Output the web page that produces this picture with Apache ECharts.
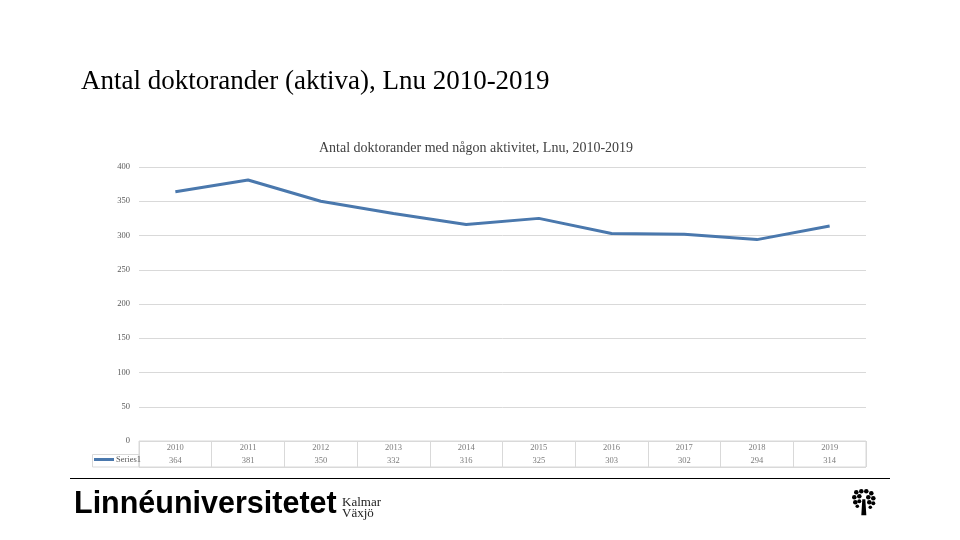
<!DOCTYPE html>
<html><head><meta charset="utf-8">
<script src="https://cdn.jsdelivr.net/npm/echarts@6/dist/echarts.min.js"></script>
<style>html,body{margin:0;padding:0;background:#fff}#c{width:960px;height:540px}</style>
</head><body><div id="c"></div>
<script>
const years = ['2010','2011','2012','2013','2014','2015','2016','2017','2018','2019'];
const values = [364, 381, 350, 332, 316, 325, 303, 302, 294, 314];
const yTicks = [0, 50, 100, 150, 200, 250, 300, 350, 400];
const seriesName = 'Series1';

const serif = '"Liberation Serif", "DejaVu Serif", serif';
const lineColor = '#4a78ad';
const gridColor = '#d9d9d9';
const txt = '#595959';

const chart = echarts.init(document.getElementById('c'));
chart.setOption({
  animation: false,
  backgroundColor: '#fff',
  title: [
    {text: 'Antal doktorander (aktiva), Lnu 2010-2019', left: 81, top: 68, padding: 0,
     textStyle: {fontFamily: serif, fontWeight: 'normal', fontSize: 27, color: '#000'}},
    {text: 'Antal doktorander med någon aktivitet, Lnu, 2010-2019', left: 476, top: 141, textAlign: 'center', padding: 0,
     textStyle: {fontFamily: serif, fontWeight: 'normal', fontSize: 14, color: '#404040'}}
  ],
  legend: {
    data: [seriesName], left: 94, top: 455, itemWidth: 20, itemHeight: 3, itemGap: 2,
    icon: 'rect', padding: 0,
    textStyle: {fontFamily: serif, fontSize: 8.5, color: txt, padding: [0,0,0,-3]}
  },
  grid: [
    {left: 139, right: 94, top: 167, bottom: 99},
    {left: 139, right: 94, top: 441, bottom: 73, show: true, borderColor: gridColor, borderWidth: 1}
  ],
  xAxis: [
    {type: 'category', data: years, gridIndex: 0, boundaryGap: true,
     axisLine: {show: false}, axisTick: {show: false}, axisLabel: {show: false}},
    {type: 'category', data: years, gridIndex: 1, boundaryGap: true,
     axisLine: {show: false}, axisTick: {show: false}, axisLabel: {show: false},
     splitLine: {show: true, lineStyle: {color: gridColor, width: 1}}}
  ],
  yAxis: [
    {type: 'value', gridIndex: 0, min: yTicks[0], max: yTicks[yTicks.length-1], interval: 50,
     axisLine: {show: false}, axisTick: {show: false},
     axisLabel: {fontFamily: serif, fontSize: 8.5, color: txt, margin: 9},
     splitLine: {lineStyle: {color: gridColor, width: 1}}},
    {type: 'category', gridIndex: 1, data: ['vals','years'],
     axisLine: {show: false}, axisTick: {show: false}, axisLabel: {show: false},
     splitLine: {show: true, lineStyle: {color: gridColor, width: 1}}}
  ],
  series: [
    {name: seriesName, type: 'line', data: values, xAxisIndex: 0, yAxisIndex: 0,
     symbol: 'none', lineStyle: {color: lineColor, width: 3}, itemStyle: {color: lineColor}},
    {type: 'scatter', xAxisIndex: 1, yAxisIndex: 1, symbolSize: 0, silent: true,
     data: years.map(y => [y, 'years', y]),
     label: {show: true, position: 'inside', formatter: p => p.value[2],
             fontFamily: serif, fontSize: 8.5, color: txt}},
    {type: 'scatter', xAxisIndex: 1, yAxisIndex: 1, symbolSize: 0, silent: true,
     data: years.map((y, i) => [y, 'vals', values[i]]),
     label: {show: true, position: 'inside', formatter: p => String(p.value[2]),
             fontFamily: serif, fontSize: 8.5, color: txt}}
  ],
  graphic: [
    {type: 'rect', shape: {x: 92.5, y: 454.5, width: 46.5, height: 12.5}, style: {fill: 'none', stroke: gridColor, lineWidth: 1}},
    {type: 'line', shape: {x1: 70, y1: 478.5, x2: 890, y2: 478.5}, style: {stroke: '#000', lineWidth: 1}},
    {type: 'text', left: 74, top: 489, style: {text: 'Linnéuniversitetet', font: 'bold 30.5px "Liberation Sans", Arial, sans-serif', fill: '#000'}},
    {type: 'text', left: 342, top: 496, style: {text: 'Kalmar', font: '13px ' + serif, fill: '#222'}},
    {type: 'text', left: 342, top: 507, style: {text: 'Växjö', font: '13px ' + serif, fill: '#222'}},
    {type: 'group', left: 852, top: 489, children: [
      {type: 'polygon', shape: {points: [[11,10],[14,10],[15,26],[10,26]]}, style: {fill: '#000'}},
      {type: 'circle', shape: {cx: 5, cy: 3, r: 2.3}, style: {fill: '#000'}},
      {type: 'circle', shape: {cx: 10, cy: 2, r: 2.3}, style: {fill: '#000'}},
      {type: 'circle', shape: {cx: 15, cy: 2, r: 2.3}, style: {fill: '#000'}},
      {type: 'circle', shape: {cx: 20, cy: 4, r: 2.3}, style: {fill: '#000'}},
      {type: 'circle', shape: {cx: 3, cy: 8, r: 2.3}, style: {fill: '#000'}},
      {type: 'circle', shape: {cx: 8, cy: 7, r: 2.3}, style: {fill: '#000'}},
      {type: 'circle', shape: {cx: 17, cy: 8, r: 2.3}, style: {fill: '#000'}},
      {type: 'circle', shape: {cx: 22, cy: 9, r: 2.3}, style: {fill: '#000'}},
      {type: 'circle', shape: {cx: 4, cy: 13, r: 2.3}, style: {fill: '#000'}},
      {type: 'circle', shape: {cx: 8, cy: 12, r: 2}, style: {fill: '#000'}},
      {type: 'circle', shape: {cx: 18, cy: 13, r: 2.3}, style: {fill: '#000'}},
      {type: 'circle', shape: {cx: 22, cy: 14, r: 2}, style: {fill: '#000'}},
      {type: 'circle', shape: {cx: 6, cy: 17, r: 1.8}, style: {fill: '#000'}},
      {type: 'circle', shape: {cx: 19, cy: 18, r: 1.8}, style: {fill: '#000'}}
    ]}
  ]
});
</script></body></html>
